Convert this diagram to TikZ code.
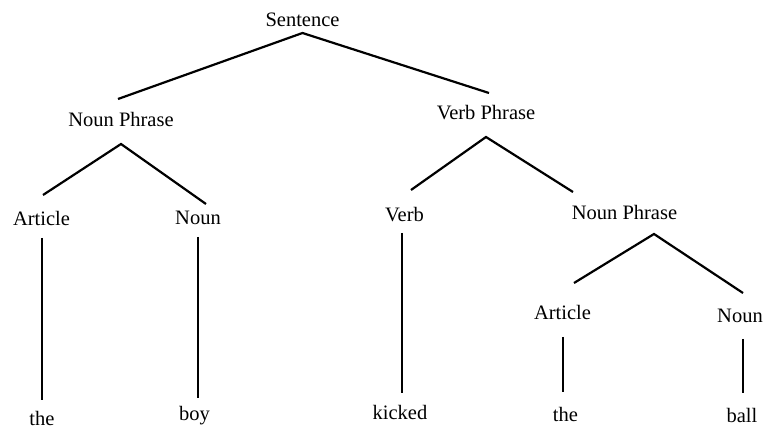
\documentclass[tikz,border=0pt]{standalone}
\usepackage{fontspec}
\setmainfont{Liberation Serif}
\begin{document}
\begin{tikzpicture}[x=1pt,y=-1pt,
  lbl/.style={anchor=base,inner sep=0pt,outer sep=0pt,font=\fontsize{20.5}{24}\selectfont,text=black},
  branch/.style={line width=2.2pt,line cap=butt}]
\useasboundingbox (0,0) rectangle (764,430);
% labels
\node[lbl] (s) at (302.5,27) {Sentence};
\node[lbl] (np1) at (121,127) {Noun Phrase};
\node[lbl] (vp) at (486,120) {Verb Phrase};
\node[lbl] (art1) at (41.5,226) {Article};
\node[lbl] (noun1) at (198,225) {Noun};
\node[lbl] (verb) at (404.5,222) {Verb};
\node[lbl] (np2) at (624.5,220) {Noun Phrase};
\node[lbl] (art2) at (562.5,320) {Article};
\node[lbl] (noun2) at (740,323) {Noun};
\node[lbl] (the1) at (42,426) {the};
\node[lbl] (boy) at (194.5,421) {boy};
\node[lbl] (kicked) at (400,420) {kicked};
\node[lbl] (the2) at (565.5,422) {the};
\node[lbl] (ball) at (742,423) {ball};
% branches
\draw[branch] ([xshift=-3pt,yshift=28pt]np1.base) -- ([yshift=-6pt]s.base) -- ([xshift=3pt,yshift=27pt]vp.base);
\draw[branch] ([xshift=1.5pt,yshift=31pt]art1.base) -- ([yshift=-17pt]np1.base) -- ([xshift=8pt,yshift=21pt]noun1.base);
\draw[branch] ([xshift=6.5pt,yshift=32pt]verb.base) -- ([yshift=-17pt]vp.base) -- ([xshift=-51.5pt,yshift=28pt]np2.base);
\draw[branch] ([xshift=11.5pt,yshift=37pt]art2.base) -- ([xshift=29.5pt,yshift=-14pt]np2.base) -- ([xshift=3pt,yshift=30pt]noun2.base);
% stems
\draw[branch] ([xshift=0.5pt,yshift=-12pt]art1.base) -- ([yshift=26pt]the1.base);
\draw[branch] ([yshift=-12pt]noun1.base) -- ([xshift=3.5pt,yshift=23pt]boy.base);
\draw[branch] ([xshift=-2.5pt,yshift=-11pt]verb.base) -- ([xshift=2pt,yshift=27pt]kicked.base);
\draw[branch] ([xshift=0.5pt,yshift=-17pt]art2.base) -- ([xshift=-2.5pt,yshift=30pt]the2.base);
\draw[branch] ([xshift=3pt,yshift=-16pt]noun2.base) -- ([xshift=1pt,yshift=30pt]ball.base);
\end{tikzpicture}
\end{document}
